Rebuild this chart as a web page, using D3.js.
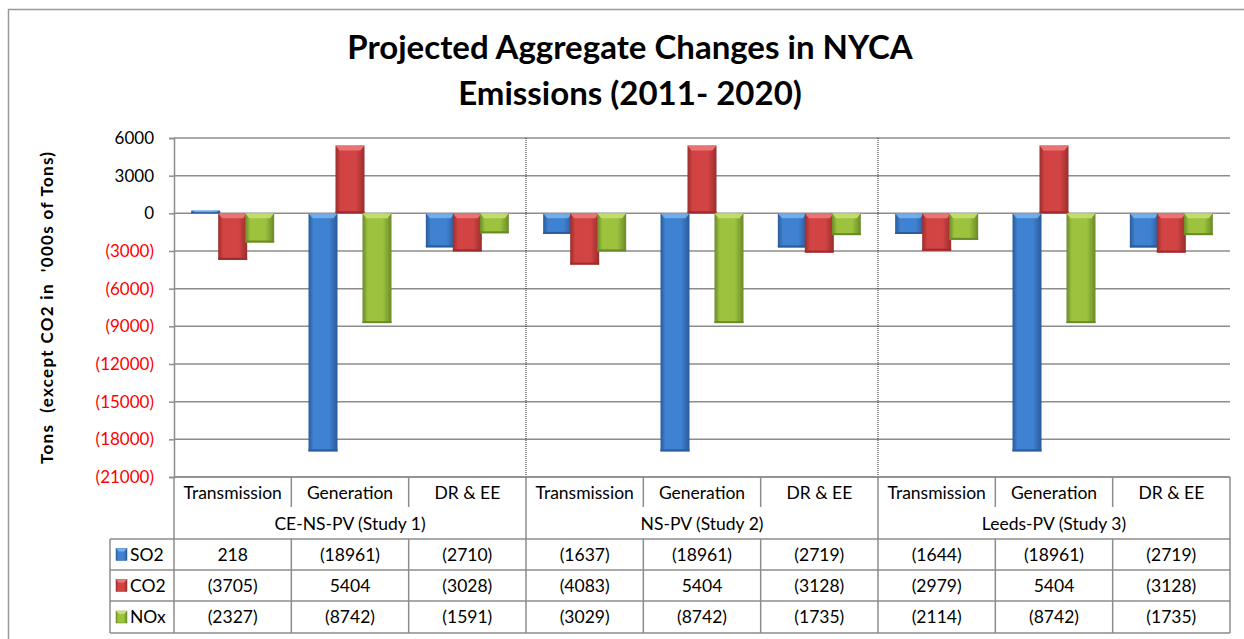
<!DOCTYPE html>
<html>
<head>
<meta charset="utf-8">
<script src="https://cdn.jsdelivr.net/npm/d3@7"></script>
<style>
  body { margin: 0; background: #fff; }
  text { font-family: Lato, "Open Sans", sans-serif; }
</style>
</head>
<body>
<div id="chart"></div>
<script>
// chart data
var categories = ["Transmission", "Generation", "DR & EE"];
var studies = ["CE-NS-PV (Study 1)", "NS-PV (Study 2)", "Leeds-PV (Study 3)"];
var seriesNames = ["SO2", "CO2", "NOx"];
var so2 = [218, -18961, -2710, -1637, -18961, -2719, -1644, -18961, -2719];
var co2 = [-3705, 5404, -3028, -4083, 5404, -3128, -2979, 5404, -3128];
var nox = [-2327, -8742, -1591, -3029, -8742, -1735, -2114, -8742, -1735];
var yTicks = [6000, 3000, 0, -3000, -6000, -9000, -12000, -15000, -18000, -21000];

var seriesValues = [so2, co2, nox];
var colors = [
  {mid: "#3f82d2", edge: "#2a5b9c", top: "#78b0ec"},
  {mid: "#d24444", edge: "#9c2c2c", top: "#ec7a7a"},
  {mid: "#9cc23e", edge: "#6a8a28", top: "#c6e070"}
];

var W = 1244, H = 639;
var plot = {left: 174, right: 1230, top: 138, bottom: 477};

var svg = d3.select("#chart").append("svg")
  .attr("width", W)
  .attr("height", H);

// gradients for bevelled bars
var defs = svg.append("defs");
colors.forEach(function(c, i) {
  var g = defs.append("linearGradient").attr("id", "grad" + i)
    .attr("x1", "0%").attr("x2", "100%").attr("y1", "0%").attr("y2", "0%");
  g.append("stop").attr("offset", "0%").attr("stop-color", c.edge);
  g.append("stop").attr("offset", "18%").attr("stop-color", c.mid);
  g.append("stop").attr("offset", "70%").attr("stop-color", c.mid);
  g.append("stop").attr("offset", "100%").attr("stop-color", c.edge);
});

// outer border
svg.append("rect")
  .attr("x", 8.5).attr("y", 9.5)
  .attr("width", 1260).attr("height", 660)
  .attr("fill", "none").attr("stroke", "#999").attr("stroke-width", 1.5);

// title
svg.append("text").attr("x", 630).attr("y", 59)
  .attr("text-anchor", "middle").attr("font-size", 33).attr("font-weight", "bold")
  .text("Projected Aggregate Changes in NYCA");
svg.append("text").attr("x", 630).attr("y", 105)
  .attr("text-anchor", "middle").attr("font-size", 33).attr("font-weight", "bold")
  .text("Emissions (2011- 2020)");

var keys = d3.range(9);
var x = d3.scaleBand().domain(keys).range([plot.left, plot.right]).padding(0);
var y = d3.scaleLinear().domain([-21000, 6000]).range([plot.bottom, plot.top]);

function fmt(v) { return v < 0 ? "(" + (-v) + ")" : String(v); }

// gridlines
svg.selectAll("line.grid")
  .data(yTicks)
  .enter().append("line")
  .attr("class", "grid")
  .attr("x1", plot.left).attr("x2", plot.right)
  .attr("y1", function(d) { return y(d); })
  .attr("y2", function(d) { return y(d); })
  .attr("stroke", "#8c8c8c").attr("stroke-width", 1.5);

// y axis
var yAxis = svg.append("g")
  .attr("transform", "translate(" + plot.left + ",0)")
  .call(d3.axisLeft(y).tickValues(yTicks).tickSize(5).tickPadding(15).tickFormat(fmt));
yAxis.select(".domain").attr("stroke", "#8c8c8c").attr("stroke-width", 1.5);
yAxis.selectAll(".tick line").attr("stroke", "#8c8c8c").attr("stroke-width", 1.5);
yAxis.selectAll(".tick text")
  .attr("font-size", 17)
  .attr("font-family", "Lato, sans-serif")
  .attr("fill", function(d) { return d < 0 ? "#ff0000" : "#000"; });

// y title
svg.append("text")
  .attr("transform", "translate(53,308) rotate(-90)")
  .attr("text-anchor", "middle").attr("font-size", 17).attr("font-weight", "bold")
  .attr("xml:space", "preserve")
  .attr("textLength", 312).attr("lengthAdjust", "spacing")
  .text("Tons  (except CO2 in  '000s of Tons)");

// dotted study separators
svg.selectAll("line.sep")
  .data([3, 6])
  .enter().append("line")
  .attr("class", "sep")
  .attr("x1", function(d) { return x(d); })
  .attr("x2", function(d) { return x(d); })
  .attr("y1", plot.top).attr("y2", plot.bottom)
  .attr("stroke", "#222").attr("stroke-width", 1).attr("stroke-dasharray", "1,1");

// bars
var step = 27, barW = 29;
seriesValues.forEach(function(vals, s) {
  var g = svg.append("g");
  var c = colors[s];
  vals.forEach(function(v, i) {
    var cx = x(i) + x.bandwidth() / 2 + (s - 1) * step;
    var y0 = Math.min(y(v), y(0)), y1 = Math.max(y(v), y(0));
    var h = y1 - y0;
    var left = cx - barW / 2;
    g.append("rect")
      .attr("x", left).attr("y", y0).attr("width", barW).attr("height", h)
      .attr("fill", "url(#grad" + s + ")");
    var bev = Math.min(5, h / 2);
    g.append("polygon")
      .attr("points", [
        [left, y0], [left + barW, y0], [left + barW - 4, y0 + bev], [left + 4, y0 + bev]
      ].map(function(p) { return p.join(","); }).join(" "))
      .attr("fill", c.top).attr("opacity", 0.9);
    g.append("rect")
      .attr("x", left).attr("y", y1 - Math.min(2, h / 3)).attr("width", barW)
      .attr("height", Math.min(2, h / 3))
      .attr("fill", c.edge);
  });
});

// data table
var rows = {cat: [477, 508], study: [508, 539], data: [539, 570, 601, 633]};
var tableLeft = 110;
var lineColor = "#8c8c8c";
var fs = 17.5;
var tbl = svg.append("g").attr("stroke", lineColor).attr("stroke-width", 1.5);

// horizontal lines
tbl.append("line").attr("x1", plot.left).attr("x2", plot.right).attr("y1", rows.cat[0]).attr("y2", rows.cat[0]);
rows.data.forEach(function(yy) {
  tbl.append("line").attr("x1", tableLeft).attr("x2", plot.right).attr("y1", yy).attr("y2", yy);
});
// vertical lines
d3.range(10).forEach(function(i) {
  var xx = i < 9 ? x(i) : plot.right;
  var full = (i % 3 === 0);
  tbl.append("line").attr("x1", xx).attr("x2", xx)
    .attr("y1", rows.cat[0]).attr("y2", full ? rows.data[3] : rows.cat[1] - 1);
  if (!full) {
    tbl.append("line").attr("x1", xx).attr("x2", xx)
      .attr("y1", rows.data[0]).attr("y2", rows.data[3]);
  }
});
tbl.append("line").attr("x1", tableLeft).attr("x2", tableLeft).attr("y1", rows.data[0]).attr("y2", rows.data[3]);

// category labels
svg.selectAll("text.cat")
  .data(keys)
  .enter().append("text")
  .attr("class", "cat")
  .attr("x", function(d) { return x(d) + x.bandwidth() / 2; })
  .attr("y", 499)
  .attr("text-anchor", "middle").attr("font-size", fs)
  .text(function(d) { return categories[d % 3]; });

// study labels
svg.selectAll("text.study")
  .data(studies)
  .enter().append("text")
  .attr("class", "study")
  .attr("x", function(d, i) { return x(i * 3) + x.bandwidth() * 1.5; })
  .attr("y", 530)
  .attr("text-anchor", "middle").attr("font-size", fs)
  .text(function(d) { return d; });

// series rows
seriesValues.forEach(function(vals, s) {
  var rowMid = (rows.data[s] + rows.data[s + 1]) / 2;
  var c = colors[s];
  svg.append("rect")
    .attr("x", 116).attr("y", rowMid - 6).attr("width", 11).attr("height", 12)
    .attr("fill", "url(#grad" + s + ")").attr("stroke", c.edge).attr("stroke-width", 0.5);
  svg.append("polygon")
    .attr("points", "116," + (rowMid - 6) + " 127," + (rowMid - 6) + " 124," + (rowMid - 3) + " 119," + (rowMid - 3))
    .attr("fill", c.top);
  svg.append("text")
    .attr("x", 130).attr("y", rowMid + 6)
    .attr("font-size", fs)
    .text(seriesNames[s]);
  svg.selectAll("text.val" + s)
    .data(vals)
    .enter().append("text")
    .attr("x", function(d, i) { return x(i) + x.bandwidth() / 2; })
    .attr("y", rowMid + 6)
    .attr("text-anchor", "middle").attr("font-size", fs)
    .text(fmt);
});
</script>
</body>
</html>
